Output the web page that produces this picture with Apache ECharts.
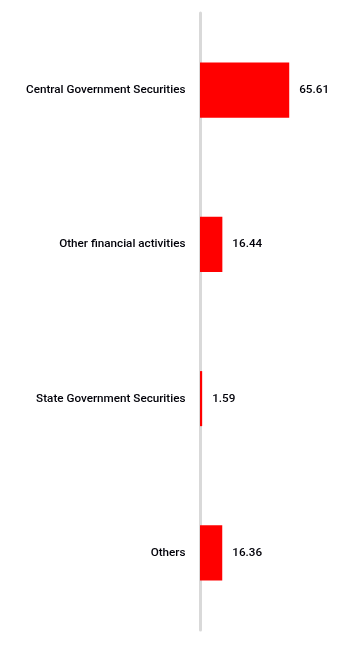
<!DOCTYPE html>
<html>
<head>
<meta charset="utf-8">
<script src="https://cdn.jsdelivr.net/npm/echarts@6/dist/echarts.min.js"></script>
<style>
html,body{margin:0;padding:0;background:#fff;}
#chart{width:343px;height:646px;}
</style>
</head>
<body>
<div id="chart"></div>
<script>
const categories = ["Central Government Securities", "Other financial activities", "State Government Securities", "Others"];
const values = [65.61, 16.44, 1.59, 16.36];

const chart = echarts.init(document.getElementById('chart'), null, {renderer: 'canvas'});
const font = 'Roboto, "Open Sans", sans-serif';
chart.setOption({
  animation: false,
  grid: {left: 200, right: 7, top: 13, bottom: 16, containLabel: false},
  xAxis: {
    type: 'value', min: 0, max: 100, show: false
  },
  yAxis: {
    type: 'category',
    data: categories,
    inverse: true,
    offset: 1.5,
    axisLine: {show: true, lineStyle: {color: '#d9d9d9', width: 3}},
    axisTick: {show: false},
    axisLabel: {color: '#000008', fontSize: 11.7, fontWeight: 500, fontFamily: font, margin: 13}
  },
  series: [{
    type: 'bar',
    data: values,
    barWidth: '35.7%',
    itemStyle: {color: '#ff0000'},
    label: {
      show: true, position: 'right', distance: 10,
      color: '#000008', fontSize: 11.7, fontWeight: 500, fontFamily: font,
      formatter: p => p.value.toFixed(2)
    }
  }]
});
</script>
</body>
</html>
